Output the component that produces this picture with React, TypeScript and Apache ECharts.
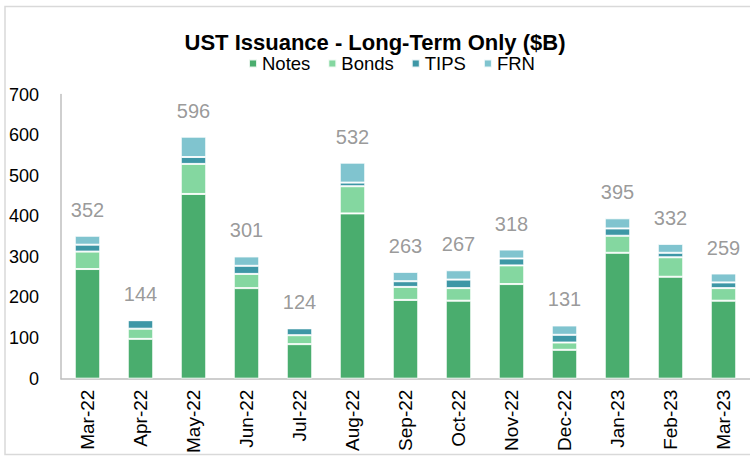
import React, { useEffect, useRef } from "react";
import * as echarts from "echarts";

const categories = ["Mar-22", "Apr-22", "May-22", "Jun-22", "Jul-22", "Aug-22", "Sep-22", "Oct-22", "Nov-22", "Dec-22", "Jan-23", "Feb-23", "Mar-23"];
const notes = [270, 98, 455, 223, 85, 407, 194, 192, 233, 71, 310, 251, 192];
const bonds = [43, 25, 74, 35, 22, 67, 32, 31, 46, 18, 42, 48, 31];
const tips = [17, 21, 17, 20, 17, 9, 14, 21, 17, 19, 18, 11, 14];
const frn = [22, 0, 50, 23, 0, 49, 23, 23, 22, 23, 25, 22, 22];
const totals = [352, 144, 596, 301, 124, 532, 263, 267, 318, 131, 395, 332, 259];
const yTicks = [0, 100, 200, 300, 400, 500, 600, 700];

const FONT = "'Liberation Sans', Arial, sans-serif";

export default function App() {
  const ref = useRef<HTMLDivElement>(null);
  useEffect(() => {
    const chart = echarts.init(ref.current!, null, { renderer: "svg" });
    const seg = (name: string, data: number[], color: string) => ({
      name,
      type: "bar",
      stack: "total",
      data,
      barWidth: "48%",
      itemStyle: { color, borderColor: "rgba(255,255,255,0.85)", borderWidth: 1 },
    });
    chart.setOption({
      animation: false,
      textStyle: { fontFamily: FONT },
      title: {
        text: "UST Issuance - Long-Term Only ($B)",
        left: "center",
        top: 26,
        textStyle: { fontSize: 22, fontWeight: "bold", color: "#000", fontFamily: FONT },
      },
      legend: {
        data: ["Notes", "Bonds", "TIPS", "FRN"],
        top: 49,
        left: 243,
        itemWidth: 8,
        itemHeight: 8,
        itemGap: 17,
        icon: "rect",
        textStyle: { fontSize: 18.5, color: "#000", fontFamily: FONT, padding: [0, 0, 0, 0] },
      },
      grid: { left: 61, right: -7, top: 94.5, bottom: 77, containLabel: false },
      graphic: [
        {
          type: "rect",
          shape: { x: 5, y: 6.5, width: 760, height: 448 },
          style: { fill: "none", stroke: "#d9d9d9", lineWidth: 1.5 },
          silent: true,
        },
      ],
      xAxis: {
        type: "category",
        data: categories,
        axisLine: { lineStyle: { color: "#bfbfbf", width: 1.5 } },
        axisTick: { show: false },
        axisLabel: { rotate: 90, fontSize: 19, color: "#000", margin: 11, fontFamily: FONT },
      },
      yAxis: {
        type: "value",
        min: yTicks[0],
        max: yTicks[yTicks.length - 1],
        interval: 100,
        splitLine: { show: false },
        axisLine: { show: true, lineStyle: { color: "#bfbfbf", width: 1.5 } },
        axisTick: { show: false },
        axisLabel: { fontSize: 18, color: "#000", margin: 22, fontFamily: FONT },
      },
      series: [
        seg("Notes", notes, "#4aad6e"),
        seg("Bonds", bonds, "#84d7a0"),
        seg("TIPS", tips, "#3e97a6"),
        seg("FRN", frn, "#80c4cf"),
        {
          name: "Total",
          type: "scatter",
          data: totals,
          symbolSize: 0,
          silent: true,
          label: {
            show: true,
            position: "top",
            distance: 16,
            fontSize: 20,
            color: "#808080",
            fontFamily: FONT,
          },
        },
      ],
    });
    return () => chart.dispose();
  }, []);
  return <div ref={ref} style={{ width: 750, height: 456, position: "absolute", left: 0, top: 0 }} />;
}
